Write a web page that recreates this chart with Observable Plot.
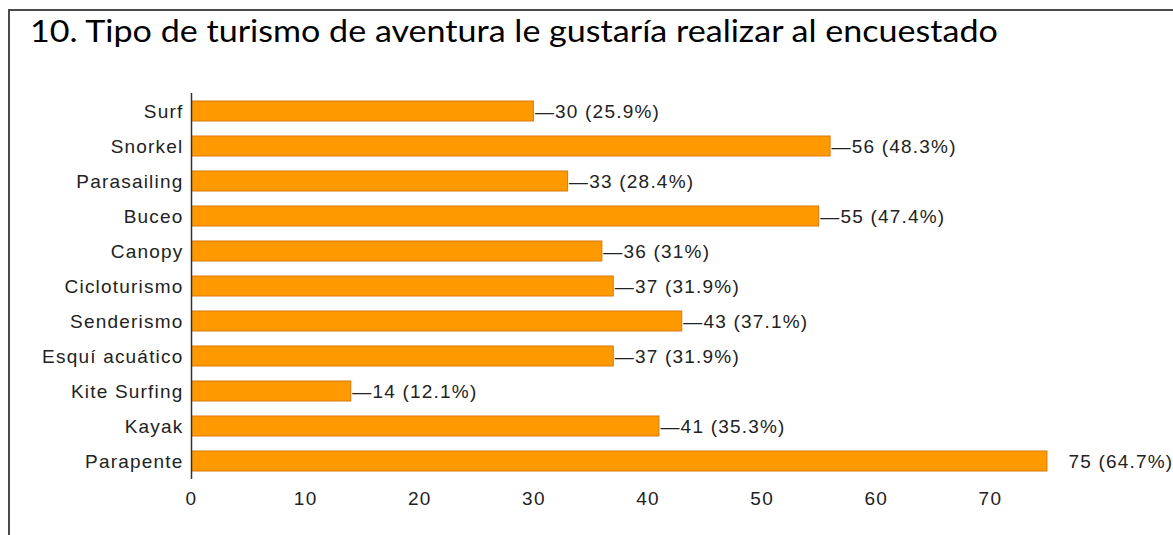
<!DOCTYPE html>
<html>
<head>
<meta charset="utf-8">
<script src="https://cdn.jsdelivr.net/npm/d3@7"></script>
<script src="https://cdn.jsdelivr.net/npm/@observablehq/plot@0.6"></script>
<style>
  html, body { margin: 0; padding: 0; background: #fff; }
  #wrap { position: relative; width: 1173px; height: 535px; overflow: hidden; }
  #frame { position: absolute; left: 8px; top: 9px; width: 1200px; height: 600px;
           border-top: 2px solid #4a4a4a; border-left: 2px solid #4a4a4a; }
  #title { position: absolute; left: 30px; top: 12px; font-family: Lato, "Open Sans", sans-serif;
           font-size: 30px; color: #000; white-space: nowrap; transform: scaleX(1.136); transform-origin: left top; }
  #chart { position: absolute; left: 0; top: 0; }
  #chart text { letter-spacing: 1.2px; }
</style>
</head>
<body>
<div id="wrap">
  <div id="frame"></div>
  <div id="title">10. Tipo de turismo de aventura le gustaría realizar al encuestado</div>
  <div id="chart"></div>
</div>
<script>
const categories = ["Surf", "Snorkel", "Parasailing", "Buceo", "Canopy", "Cicloturismo",
  "Senderismo", "Esquí acuático", "Kite Surfing", "Kayak", "Parapente"];
const counts = [30, 56, 33, 55, 36, 37, 43, 37, 14, 41, 75];
const percents = ["25.9%", "48.3%", "28.4%", "47.4%", "31%", "31.9%", "37.1%", "31.9%", "12.1%", "35.3%", "64.7%"];
const xTicks = [0, 10, 20, 30, 40, 50, 60, 70];

const data = categories.map((c, i) => ({ name: c, value: counts[i], pct: percents[i], connector: i < categories.length - 1 }));

const font = "'Liberation Sans', Arial, sans-serif";
const chart = Plot.plot({
  width: 1173,
  height: 535,
  marginLeft: 191,
  marginRight: 69,
  marginTop: 93,
  marginBottom: 56,
  style: { fontFamily: font, fontSize: "19px", color: "#222", background: "transparent" },
  x: { domain: [0, 80], ticks: xTicks, tickSize: 0, tickPadding: 12, label: null },
  y: { domain: categories, paddingInner: 0.42, paddingOuter: 0.21, tickSize: 0, tickPadding: 8, label: null },
  marks: [
    Plot.barX(data, { x: "value", y: "name", fill: "#ff9900", stroke: "#d9790a", strokeWidth: 1, insetLeft: 0.5 }),
    Plot.ruleX([0], { stroke: "#333", strokeWidth: 1.5 }),
    Plot.text(data.filter(d => d.connector), { x: "value", y: "name", text: d => "—" + d.value + " (" + d.pct + ")",
      textAnchor: "start", dx: 1, fill: "#222", fontSize: 19 }),
    Plot.text(data.filter(d => !d.connector), { x: "value", y: "name", text: d => d.value + " (" + d.pct + ")",
      textAnchor: "start", dx: 21, fill: "#222", fontSize: 19 })
  ]
});
document.getElementById("chart").appendChild(chart);
</script>
</body>
</html>
